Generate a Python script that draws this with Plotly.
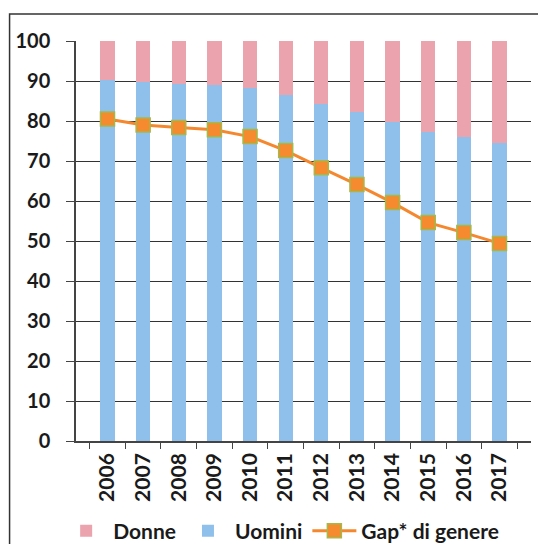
import plotly.graph_objects as go

anni = ["2006", "2007", "2008", "2009", "2010", "2011",
        "2012", "2013", "2014", "2015", "2016", "2017"]
uomini = [90.2, 89.7, 89.3, 89.0, 88.3, 86.5, 84.3, 82.2, 79.8, 77.3, 75.9, 74.6]
donne = [9.8, 10.3, 10.7, 11.0, 11.7, 13.5, 15.7, 17.8, 20.2, 22.7, 24.1, 25.4]
gap = [80.5, 79.0, 78.4, 77.8, 76.1, 72.6, 68.3, 64.1, 59.6, 54.6, 52.1, 49.4]

font_family = "Lato, 'Open Sans', sans-serif"

fig = go.Figure()
fig.add_trace(go.Bar(x=anni, y=uomini, name="Uomini", marker_color="#8FC0EC",
                     marker_line_width=0, legendrank=2))
fig.add_trace(go.Bar(x=anni, y=donne, name="Donne", marker_color="#EBA3AE",
                     marker_line_width=0, legendrank=1))
fig.add_trace(go.Scatter(
    x=anni, y=gap, name="Gap* di genere", mode="lines+markers", legendrank=3,
    line=dict(color="#F5882E", width=3),
    marker=dict(symbol="square", size=14, color="#F58A2E",
                line=dict(color="#A5B84A", width=1.5)),
))

# page body has an 8px margin, so everything is placed 8px up/left of the reference
fig.update_layout(
    width=538, height=536,
    barmode="stack", bargap=0.6,
    plot_bgcolor="white", paper_bgcolor="white",
    margin=dict(l=67.5, r=15, t=33, b=103, autoexpand=False),
    font=dict(family=font_family, size=20, color="#1a1a1a", weight="bold"),
    showlegend=True,
    legend=dict(orientation="h", x=0.452, xanchor="center", y=-0.225, yanchor="middle",
                traceorder="normal", itemwidth=44,
                font=dict(size=21, family=font_family, weight="bold")),
    shapes=[dict(type="rect", xref="paper", yref="paper",
                 x0=-0.146, x1=1.0285, y0=-0.30, y1=1.0675,
                 line=dict(color="#333", width=1.5))],
)
fig.update_xaxes(
    type="category", showline=True, linecolor="#444", linewidth=1.5,
    ticks="outside", tickson="boundaries", ticklen=6, tickcolor="#444",
    tickangle=-90, automargin=False, ticklabelstandoff=2,
    tickfont=dict(size=21, family=font_family, weight="bold"),
)
fig.update_yaxes(
    range=[0, 100], dtick=10, showgrid=True, gridcolor="#333", gridwidth=1,
    showline=True, linecolor="#444", linewidth=1.5, automargin=False,
    ticks="outside", ticklen=8, tickcolor="#444", ticklabelstandoff=12,
    tickfont=dict(size=20, family=font_family, weight="bold"), zeroline=False,
)

fig.write_html("out.html")
